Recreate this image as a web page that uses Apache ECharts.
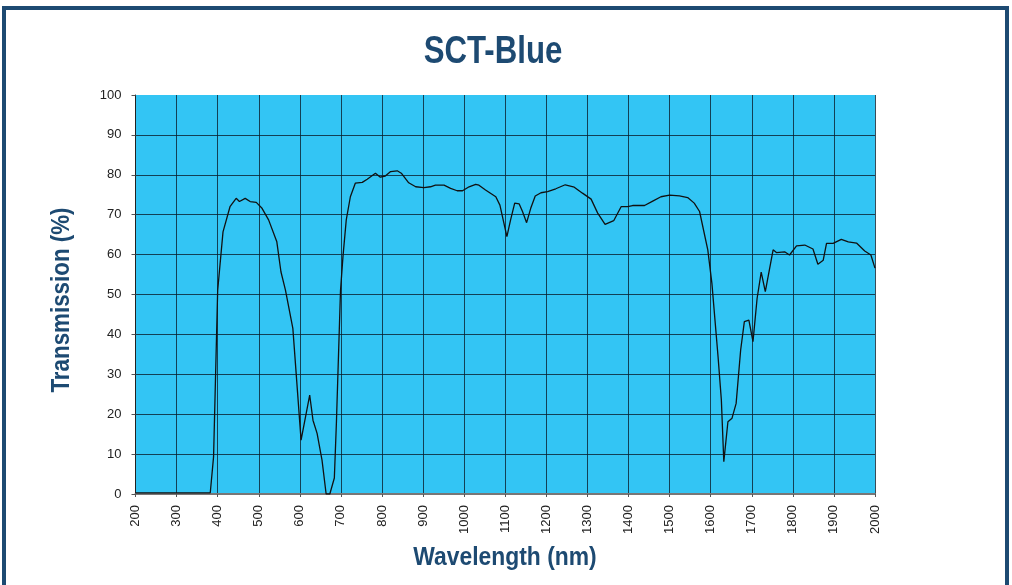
<!DOCTYPE html>
<html>
<head>
<meta charset="utf-8">
<script src="https://cdn.jsdelivr.net/npm/echarts@6/dist/echarts.min.js"></script>
<style>
html,body{margin:0;padding:0;background:#fff;}
#chart{width:1012px;height:585px;}
</style>
</head>
<body>
<div id="chart"></div>
<script>
const titleText = 'SCT-Blue';
const xAxisTitle = 'Wavelength (nm)';
const yAxisTitle = 'Transmission (%)';

const wavelength = [200, 382, 390, 400, 413, 430, 445, 453, 467, 479, 494, 508, 524, 544, 554, 565, 583, 603, 624, 632, 642, 654, 664, 673, 684, 689, 699, 705, 713, 723, 735, 752, 764, 784, 796, 808, 821, 837, 847, 865, 882, 902, 918, 930, 951, 967, 983, 996, 1012, 1028, 1036, 1052, 1077, 1087, 1104, 1113, 1123, 1134, 1142, 1152, 1162, 1173, 1187, 1203, 1223, 1246, 1268, 1288, 1309, 1325, 1343, 1364, 1382, 1398, 1410, 1439, 1459, 1479, 1500, 1524, 1544, 1560, 1573, 1593, 1603, 1618, 1626, 1632, 1642, 1652, 1662, 1673, 1682, 1693, 1703, 1713, 1723, 1733, 1752, 1760, 1780, 1792, 1809, 1829, 1849, 1861, 1874, 1882, 1898, 1918, 1935, 1955, 1975, 1990, 2000];
const transmission = [0.3, 0.3, 9.3, 51, 65.7, 72, 74.1, 73.3, 74.1, 73.3, 73.1, 71.6, 68.7, 63.2, 55.7, 51.1, 41.5, 13.5, 24.8, 18.5, 15.2, 8.5, 0, 0, 4, 17.8, 51, 59.5, 68.7, 74.5, 77.9, 78.1, 78.9, 80.4, 79.4, 79.7, 80.8, 81.0, 80.4, 78.0, 77.0, 76.8, 77, 77.4, 77.4, 76.6, 76.0, 76.0, 77.0, 77.6, 77.4, 76.2, 74.5, 72.4, 64.5, 68.7, 72.9, 72.7, 70.8, 68.0, 71.6, 74.7, 75.5, 75.8, 76.5, 77.5, 76.9, 75.4, 73.9, 70.4, 67.6, 68.5, 72, 72, 72.3, 72.3, 73.4, 74.5, 74.9, 74.7, 74.3, 72.9, 70.8, 61.2, 52.8, 34.4, 23.6, 8.1, 18.1, 19.0, 22.7, 36.1, 43.2, 43.6, 38.2, 49.0, 55.6, 50.7, 61.2, 60.5, 60.7, 59.9, 62.2, 62.4, 61.4, 57.6, 58.6, 62.8, 62.8, 63.8, 63.2, 62.9, 60.9, 59.9, 56.6];

const navy = '#1d4a72';
const boldFont = 'bold {size}px "Liberation Sans", Arial, sans-serif';
const gridColor = 'rgba(10,30,45,0.8)';

const chart = echarts.init(document.getElementById('chart'), null, {renderer: 'canvas'});
chart.setOption({
  animation: false,
  backgroundColor: '#ffffff',
  graphic: [
    {
      type: 'rect',
      shape: {x: 4, y: 8, width: 1003, height: 620},
      style: {fill: 'none', stroke: navy, lineWidth: 4},
      silent: true, z: 100
    },
    {
      type: 'text', x: 493, y: 52, scaleX: 0.8,
      style: {text: titleText, font: boldFont.replace('{size}', 39), fill: navy, textAlign: 'center', textVerticalAlign: 'middle'},
      silent: true, z: 100
    },
    {
      type: 'text', x: 505, y: 558, scaleX: 0.88,
      style: {text: xAxisTitle, font: boldFont.replace('{size}', 26), fill: navy, textAlign: 'center', textVerticalAlign: 'middle'},
      silent: true, z: 100
    },
    {
      type: 'text', x: 62, y: 300, scaleX: 0.86, rotation: Math.PI / 2,
      style: {text: yAxisTitle, font: boldFont.replace('{size}', 26), fill: navy, textAlign: 'center', textVerticalAlign: 'middle'},
      silent: true, z: 100
    }
  ],
  grid: {
    left: 135.5, right: 137, top: 95, bottom: 91,
    show: true, backgroundColor: '#33c5f4', borderWidth: 0
  },
  xAxis: {
    type: 'value', min: 200, max: 2000, interval: 100,
    axisLine: {show: true, lineStyle: {color: '#777', width: 2}},
    axisTick: {show: true, length: 3, lineStyle: {color: '#555'}},
    axisLabel: {rotate: 90, margin: 11, color: '#222', fontSize: 13, fontFamily: '"Liberation Sans", Arial, sans-serif',
      formatter: v => String(v)},
    splitLine: {show: true, showMinLine: false, lineStyle: {color: gridColor, width: 1}}
  },
  yAxis: {
    type: 'value', min: 0, max: 100, interval: 10,
    axisLine: {show: true, lineStyle: {color: '#222', width: 1}},
    axisTick: {show: true, length: 4, lineStyle: {color: '#555'}},
    axisLabel: {margin: 14, color: '#222', fontSize: 13, fontFamily: '"Liberation Sans", Arial, sans-serif',
      formatter: v => String(v)},
    splitLine: {show: true, showMinLine: false, showMaxLine: false, lineStyle: {color: gridColor, width: 1}}
  },
  series: [{
    type: 'line',
    data: wavelength.map((w, i) => [w, transmission[i]]),
    showSymbol: false,
    smooth: false,
    lineStyle: {color: '#111', width: 1.3},
    z: 5
  }]
});
</script>
</body>
</html>
